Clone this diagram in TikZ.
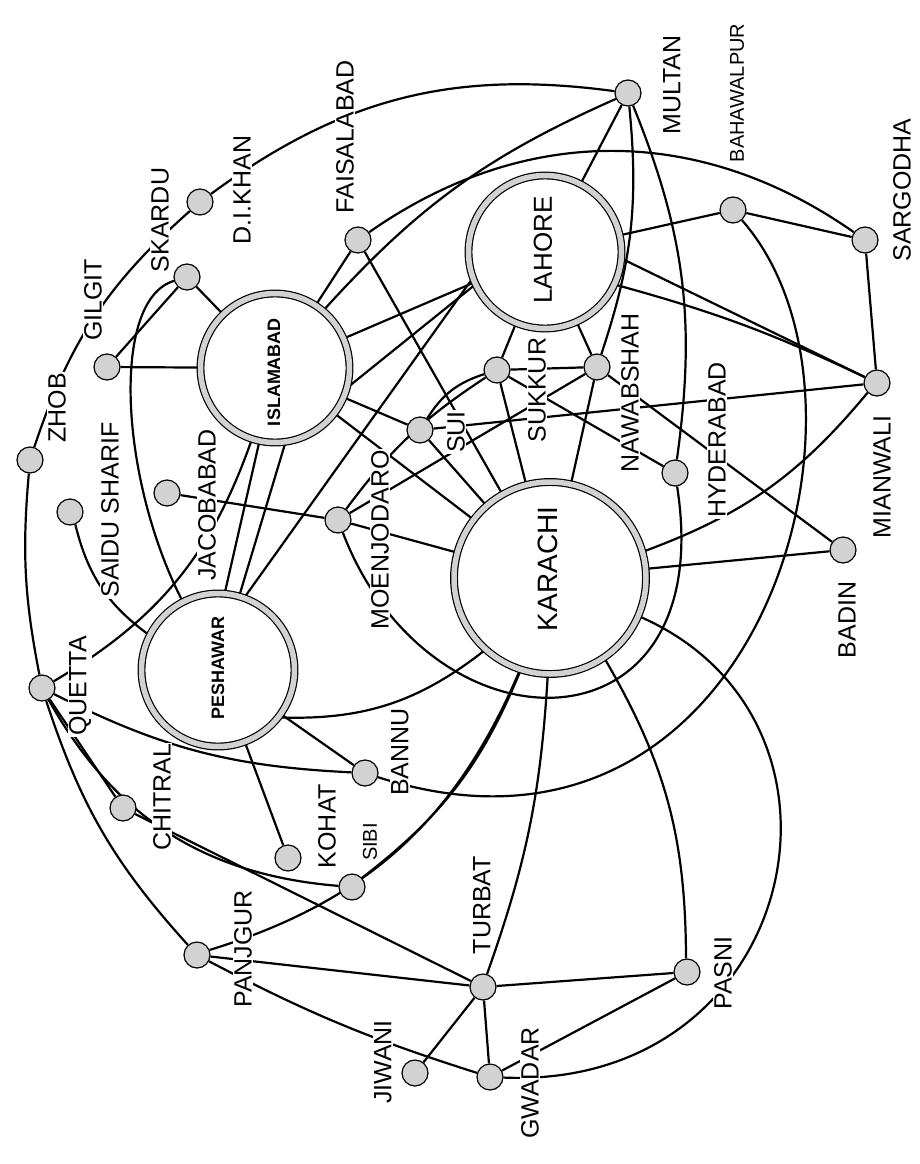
\documentclass[tikz,border=0pt]{standalone}
\usepackage{fontspec}
\setmainfont{Liberation Sans}
\usetikzlibrary{arrows}
\pgfdeclarelayer{links}
\pgfsetlayers{links,main}
\tikzset{
  hub/.style={circle,draw,line width=1.2pt,double=gray!35,double distance=5.5pt,fill=white,inner sep=0pt},
  town/.style={circle,draw,line width=1.2pt,fill=gray!35,minimum size=26pt,inner sep=0pt},
  city/.style={rotate=90,fill=white,inner sep=1pt,font=\fontsize{25}{25}\selectfont},
  hubname/.style={rotate=90,inner sep=0pt},
  link/.style={line width=2.2pt},
}

\begin{document}
\begin{tikzpicture}[x=1pt,y=1pt]
\useasboundingbox (0,0) rectangle (919,-1164);

%Hubs
\node[hub,minimum size=192pt] (karachi) at (550,-578) {};
\node[hub,minimum size=153pt] (peshawar) at (218,-670) {};
\node[hub,minimum size=149pt] (islamabad) at (275,-368) {};
\node[hub,minimum size=153pt] (lahore) at (545,-252) {};
\node[hubname,font=\fontsize{28}{28}\selectfont] (karachi-l) at (548,-569) {KARACHI};
\node[hubname,font=\bfseries\fontsize{18}{18}\selectfont] (peshawar-l) at (218,-668) {PESHAWAR};
\node[hubname,font=\bfseries\fontsize{18}{18}\selectfont] (islamabad-l) at (274,-372) {ISLAMABAD};
\node[hubname,font=\fontsize{26}{26}\selectfont] (lahore-l) at (543,-250) {LAHORE};

%Towns
\node[town] (multan) at (628,-93) {};
\node[town] (bahawalpur) at (733,-210) {};
\node[town] (sargodha) at (865,-240) {};
\node[town] (mianwali) at (877,-383) {};
\node[town] (badin) at (843,-550) {};
\node[town] (hyderabad) at (675,-473) {};
\node[town] (nawabshah) at (597,-367) {};
\node[town] (sukkur) at (497,-370) {};
\node[town] (sui) at (420,-430) {};
\node[town] (moenjodaro) at (338,-520) {};
\node[town] (jacobabad) at (167,-493) {};
\node[town] (saidusharif) at (70,-512) {};
\node[town] (zhob) at (30,-460) {};
\node[town] (gilgit) at (107,-367) {};
\node[town] (skardu) at (187,-277) {};
\node[town] (dikhan) at (200,-202) {};
\node[town] (faisalabad) at (358,-240) {};
\node[town] (quetta) at (42,-688) {};
\node[town] (chitral) at (123,-808) {};
\node[town] (kohat) at (288,-858) {};
\node[town] (bannu) at (365,-773) {};
\node[town] (sibi) at (352,-887) {};
\node[town] (panjgur) at (197,-955) {};
\node[town] (jiwani) at (415,-1073) {};
\node[town] (turbat) at (483,-987) {};
\node[town] (gwadar) at (490,-1077) {};
\node[town] (pasni) at (687,-972) {};

%Links
\begin{pgfonlayer}{links}
\draw[link] (zhob) to[bend right=8] (quetta);
\draw[link] (quetta) to[bend right=12] (panjgur);
\draw[link] (quetta) to[bend right=28] (sibi);
\draw[link] (quetta) -- (chitral);
\draw[link] (quetta) to[bend right=12] (bannu);
\draw[link] (quetta) to[bend right=20] (islamabad.252);
\draw[link] (saidusharif) to[bend right=20] (peshawar);
\draw[link] (zhob) to[bend left=15] (dikhan);
\draw[link] (gilgit) -- (skardu);
\draw[link] (gilgit) -- (islamabad);
\draw[link] (skardu) -- (islamabad);
\draw[link] (skardu) .. controls (110,-300) and (120,-480) .. (peshawar);
\draw[link] (dikhan) to[bend left=22] (multan);
\draw[link] (islamabad) to[bend left=12] (multan);
\draw[link] (faisalabad) to[bend left=35] (sargodha);
\draw[link] (faisalabad) -- (islamabad);
\draw[link] (faisalabad) -- (karachi);
\draw[link] (islamabad) -- (lahore);
\draw[link] (islamabad.-15) -- (lahore.205);
\draw[link] (islamabad) -- (sui);
\draw[link] (islamabad) -- (karachi);
\draw[link] (peshawar.70) -- (lahore.200);
\draw[link] (peshawar.85) -- (islamabad.258);
\draw[link] (peshawar.74) -- (islamabad.278);
\draw[link] (jacobabad) -- (moenjodaro);
\draw[link] (moenjodaro) to[bend left=10] (sukkur);
\draw[link] (moenjodaro) -- (karachi);
\draw[link] (moenjodaro) -- (nawabshah);
\draw[link] (moenjodaro) .. controls (430,-760) and (720,-760) .. (hyderabad);
\draw[link] (peshawar) -- (bannu);
\draw[link] (peshawar) -- (kohat);
\draw[link] (peshawar.-38) to[bend right=20] (karachi.228);
\draw[link] (bannu) .. controls (760,-900) and (900,-400) .. (bahawalpur);
\draw[link] (panjgur) -- (turbat);
\draw[link] (panjgur) to[bend right=5] (gwadar);
\draw[link] (panjgur) to[bend right=25] (karachi);
\draw[link] (sibi) to[bend right=15] (karachi);
\draw[link] (chitral) -- (turbat);
\draw[link] (jiwani) -- (turbat);
\draw[link] (turbat) -- (gwadar);
\draw[link] (turbat) -- (pasni);
\draw[link] (gwadar) -- (pasni);
\draw[link] (turbat) to[bend right=8] (karachi);
\draw[link] (pasni) to[bend right=15] (karachi);
\draw[link] (gwadar) .. controls (800,-1090) and (880,-720) .. (karachi);
\draw[link] (badin) -- (karachi);
\draw[link] (badin) -- (nawabshah);
\draw[link] (mianwali) -- (sui);
\draw[link] (karachi) to[bend right=15] (mianwali);
\draw[link] (lahore) -- (bahawalpur);
\draw[link] (bahawalpur) -- (sargodha);
\draw[link] (lahore.-5) -- (mianwali);
\draw[link] (lahore.-25) to[bend left=5] (mianwali);
\draw[link] (sargodha) -- (mianwali);
\draw[link] (multan) -- (lahore);
\draw[link] (multan) to[bend left=15] (hyderabad);
\draw[link] (multan) to[bend left=12] (nawabshah);
\draw[link] (sukkur) -- (hyderabad);
\draw[link] (sukkur) -- (karachi);
\draw[link] (sukkur) -- (nawabshah);
\draw[link] (sukkur) -- (lahore);
\draw[link] (nawabshah) -- (karachi);
\draw[link] (nawabshah) -- (lahore);
\draw[link] (sui) to[bend left=20] (sukkur);
\draw[link] (sui) -- (karachi);
\end{pgfonlayer}

%Labels
\node[city] (multan-l) at (672,-85) {MULTAN};
\node[city,font=\fontsize{20}{20}\selectfont] (bahawalpur-l) at (737,-93) {BAHAWALPUR};
\node[city] (sargodha-l) at (902,-190) {SARGODHA};
\node[city] (mianwali-l) at (882,-477) {MIANWALI};
\node[city] (badin-l) at (847,-620) {BADIN};
\node[city] (hyderabad-l) at (717,-440) {HYDERABAD};
\node[city] (nawabshah-l) at (630,-393) {NAWABSHAH};
\node[city] (sukkur-l) at (537,-390) {SUKKUR};
\node[city] (sui-l) at (456,-432) {SUI};
\node[city] (moenjodaro-l) at (380,-540) {MOENJODARO};
\node[city] (jacobabad-l) at (207,-505) {JACOBABAD};
\node[city] (saidusharif-l) at (110,-510) {SAIDU SHARIF};
\node[city] (zhob-l) at (57,-408) {ZHOB};
\node[city] (gilgit-l) at (93,-300) {GILGIT};
\node[city] (skardu-l) at (160,-220) {SKARDU};
\node[city] (dikhan-l) at (242,-190) {D.I.KHAN};
\node[city] (faisalabad-l) at (345,-137) {FAISALABAD};
\node[city] (quetta-l) at (80,-686) {QUETTA};
\node[city] (chitral-l) at (162,-797) {CHITRAL};
\node[city] (kohat-l) at (327,-826) {KOHAT};
\node[city] (bannu-l) at (400,-752) {BANNU};
\node[city,font=\fontsize{20}{20}\selectfont] (sibi-l) at (370,-842) {SIBI};
\node[city] (panjgur-l) at (243,-949) {PANJGUR};
\node[city] (jiwani-l) at (383,-1062) {JIWANI};
\node[city] (turbat-l) at (482,-905) {TURBAT};
\node[city] (gwadar-l) at (530,-1083) {GWADAR};
\node[city] (pasni-l) at (723,-973) {PASNI};

\end{tikzpicture}
\end{document}
